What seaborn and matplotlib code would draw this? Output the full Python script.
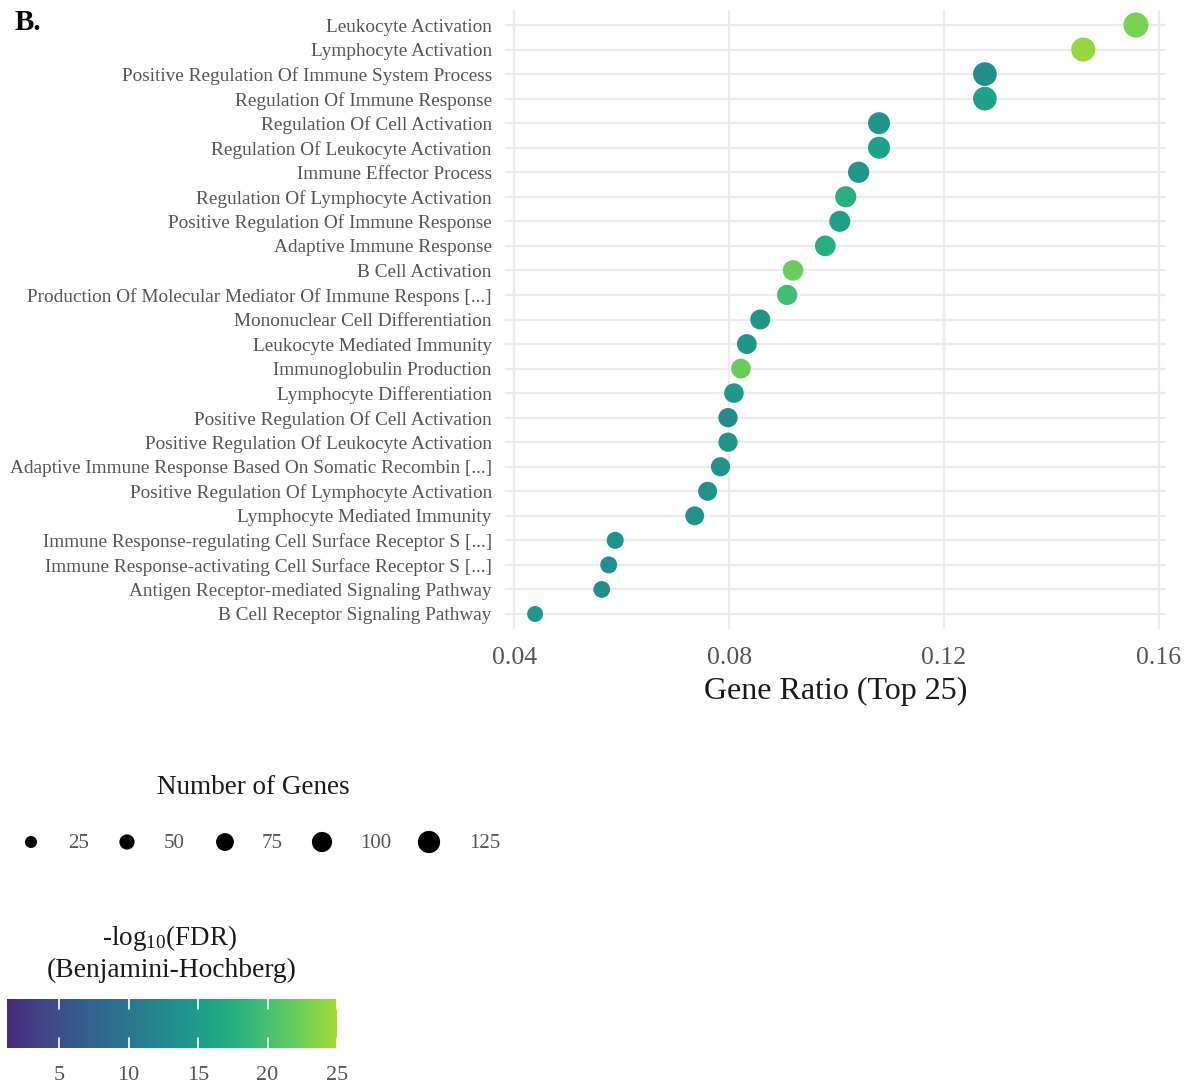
import numpy as np
import pandas as pd
import matplotlib
matplotlib.use("Agg")
import matplotlib.pyplot as plt
import matplotlib as mpl
import seaborn as sns
from matplotlib.colors import ListedColormap, Normalize

# ---------------- data ----------------
terms = [
    "Leukocyte Activation",
    "Lymphocyte Activation",
    "Positive Regulation Of Immune System Process",
    "Regulation Of Immune Response",
    "Regulation Of Cell Activation",
    "Regulation Of Leukocyte Activation",
    "Immune Effector Process",
    "Regulation Of Lymphocyte Activation",
    "Positive Regulation Of Immune Response",
    "Adaptive Immune Response",
    "B Cell Activation",
    "Production Of Molecular Mediator Of Immune Respons [...]",
    "Mononuclear Cell Differentiation",
    "Leukocyte Mediated Immunity",
    "Immunoglobulin Production",
    "Lymphocyte Differentiation",
    "Positive Regulation Of Cell Activation",
    "Positive Regulation Of Leukocyte Activation",
    "Adaptive Immune Response Based On Somatic Recombin [...]",
    "Positive Regulation Of Lymphocyte Activation",
    "Lymphocyte Mediated Immunity",
    "Immune Response-regulating Cell Surface Receptor S [...]",
    "Immune Response-activating Cell Surface Receptor S [...]",
    "Antigen Receptor-mediated Signaling Pathway",
    "B Cell Receptor Signaling Pathway",
]
gene_ratio = [0.1557, 0.1459, 0.1276, 0.1276, 0.1079, 0.1079, 0.1041, 0.1017,
              0.1006, 0.0979, 0.0919, 0.0908, 0.0858, 0.0833, 0.0822, 0.0809,
              0.0798, 0.0798, 0.0784, 0.0760, 0.0736, 0.0588, 0.0576, 0.0563,
              0.0439]
gene_count = [162, 150, 144, 144, 122, 122, 113, 112, 110, 106, 104, 101, 98,
              96, 95, 93, 90, 90, 89, 87, 86, 67, 66, 64, 57]
neg_log10_fdr = [22.8, 24.4, 13.1, 15.9, 14.1, 15.9, 14.4, 17.5, 15.4, 17.5,
                 22.1, 19.7, 14.3, 14.1, 22.0, 14.4, 12.6, 14.1, 13.8, 13.9,
                 13.9, 13.6, 13.4, 13.1, 14.4]
size_breaks = [25, 50, 75, 100, 125]
x_ticks = [0.04, 0.08, 0.12, 0.16]
x_tick_labels = ["0.04", "0.08", "0.12", "0.16"]
cbar_ticks = [5, 10, 15, 20, 25]

# ---------------- style ----------------
sns.set_theme(style="white")
plt.rcParams["font.family"] = ["Liberation Serif", "DejaVu Serif"]
plt.rcParams["mathtext.fontset"] = "custom"
plt.rcParams["mathtext.rm"] = "Liberation Serif"
plt.rcParams["mathtext.it"] = "Liberation Serif:italic"
plt.rcParams["mathtext.bf"] = "Liberation Serif:bold"

W, H = 1187, 1084
fig = plt.figure(figsize=(W / 100, H / 100), dpi=100)


def px_axes(x0, y0, x1, y1):
    return fig.add_axes([x0 / W, 1 - y1 / H, (x1 - x0) / W, (y1 - y0) / H])


TICK_COL = "#555555"
TITLE_COL = "#1a1a1a"
GRID_COL = "#ebebeb"

cmap = ListedColormap(plt.get_cmap("viridis")(np.linspace(0.12, 0.86, 256)))
hue_lim = (1.25, 25)
size_range = (29.3, 392.0)
size_lim = (0, 200)

df = pd.DataFrame({"term": terms, "ratio": gene_ratio,
                   "count": gene_count, "fdr": neg_log10_fdr})

# ---------------- main panel ----------------
ax = px_axes(505, 10.3, 1166, 628.7)
sns.scatterplot(data=df, x="ratio", y="term", hue="fdr", size="count",
                palette=cmap, hue_norm=hue_lim, sizes=size_range,
                size_norm=size_lim, linewidth=0, legend=False, ax=ax,
                zorder=3)
n = len(terms)
ax.set_ylim(n - 0.4, -0.6)
ax.set_xlim(0.0383, 0.1613)
ax.set_xticks(x_ticks)
ax.set_xticklabels(x_tick_labels)
ax.set_axisbelow(True)
ax.grid(True, color=GRID_COL, linewidth=1.6)
for s in ax.spines.values():
    s.set_visible(False)
ax.tick_params(axis="y", labelsize=13.9, colors=TICK_COL, length=0, pad=9.5)
ax.tick_params(axis="x", labelsize=18.5, colors=TICK_COL, length=0, pad=13)
ax.set_ylabel("")
ax.set_xlabel("Gene Ratio (Top 25)", fontsize=23, color=TITLE_COL, labelpad=6)

fig.text(15 / W, 1 - 22 / H, "B.", fontweight="bold", fontsize=21,
         ha="left", va="center", color="black")

# ---------------- size legend ----------------
lax = px_axes(0, 0, W, H)
lax.set_xlim(0, W)
lax.set_ylim(H, 0)
lax.axis("off")
lax.patch.set_alpha(0)


def size_of(v):
    t = (v - size_lim[0]) / (size_lim[1] - size_lim[0])
    return size_range[0] + t * (size_range[1] - size_range[0])


dot_x = [31, 127, 225, 322, 429]
lab_x = [68, 164, 262, 360, 469]
lax.scatter(dot_x, [842] * len(size_breaks), s=[size_of(v) for v in size_breaks],
            color="black", linewidth=0)
for xx, v in zip(lab_x, size_breaks):
    lax.text(xx, 844, str(v), ha="left", va="center", fontsize=15,
             color=TICK_COL)
lax.text(253, 788, "Number of Genes", ha="center", va="center", fontsize=19.5,
         color=TITLE_COL)

# ---------------- colourbar ----------------
lax.text(170, 938, r"-log$_{10}$(FDR)", ha="center", va="center",
         fontsize=19.5, color=TITLE_COL)
lax.text(172, 970, "(Benjamini-Hochberg)", ha="center", va="center",
         fontsize=19.8, color=TITLE_COL)

cax = px_axes(7, 999, 337, 1048)
cb = mpl.colorbar.ColorbarBase(cax, cmap=cmap, norm=Normalize(*hue_lim),
                               orientation="horizontal", ticks=cbar_ticks)
cb.outline.set_visible(False)
cax.tick_params(axis="x", length=0, labelsize=16, colors=TICK_COL, pad=13)
for t in cbar_ticks:
    cax.plot([t, t], [0, 0.2], color="white", lw=1.2)
    cax.plot([t, t], [0.8, 1.0], color="white", lw=1.2)
cax.set_ylim(0, 1)
cax.set_xlim(*hue_lim)

fig.savefig("out.png", dpi=100)
